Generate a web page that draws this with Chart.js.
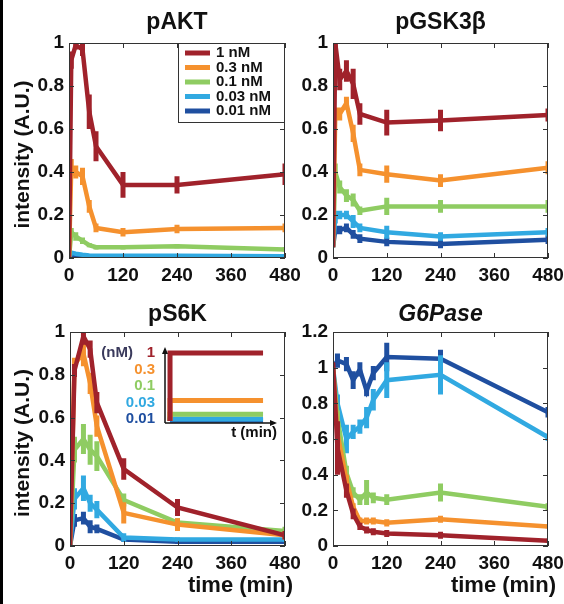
<!DOCTYPE html>
<html>
<head>
<meta charset="utf-8">
<script src="https://cdn.jsdelivr.net/npm/chart.js@4.4.1/dist/chart.umd.min.js"></script>
<style>
  body { margin: 0; background: #fff; }
  #wrap { position: relative; width: 564px; height: 604px; overflow: hidden; background: #fff; }
  #wrap canvas { position: absolute; }
  #edge { position: absolute; left: 0; top: 0; width: 3px; height: 604px; background: #000; }
</style>
</head>
<body>
<div id="wrap">
  <canvas id="akt" width="310" height="300" style="left:0;top:0"></canvas>
  <canvas id="gsk" width="300" height="300" style="left:264px;top:0"></canvas>
  <canvas id="s6k" width="310" height="314" style="left:0;top:290px"></canvas>
  <canvas id="g6p" width="300" height="314" style="left:264px;top:290px"></canvas>
  <canvas id="inset" width="190" height="104" style="left:95px;top:338px"></canvas>
  <div id="edge"></div>
</div>
<script>
// doses, shared by every panel
var doses = ['1 nM', '0.3 nM', '0.1 nM', '0.03 nM', '0.01 nM'];
var doseLabels = ['1', '0.3', '0.1', '0.03', '0.01'];
var doseLevels = [1, 0.3, 0.1, 0.03, 0.01];
var colors = ['#a0222b', '#f5912e', '#8fcc62', '#31a9e1', '#1f4fa0'];

var xTicks = [0, 120, 240, 360, 480];
var yTicks = [0, 0.2, 0.4, 0.6, 0.8, 1];
var yTicksG6p = [0, 0.2, 0.4, 0.6, 0.8, 1, 1.2];

// pAKT
var aktTime = [0, 5, 15, 30, 45, 60, 120, 240, 480];
var aktMean = [
  [0, 0.92, 0.99, 0.97, 0.68, 0.52, 0.34, 0.34, 0.39],
  [0, 0.42, 0.40, 0.38, 0.24, 0.14, 0.12, 0.135, 0.14],
  [0, 0.12, 0.10, 0.08, 0.06, 0.05, 0.05, 0.055, 0.04],
  [0, 0.025, 0.02, 0.015, 0.012, 0.01, 0.01, 0.01, 0.008],
  [0, 0.006, 0.005, 0.004, 0.004, 0.003, 0.003, 0.003, 0.003]
];
var aktErr = [
  [0, 0.04, 0.02, 0.03, 0.08, 0.07, 0.06, 0.04, 0.05],
  [0, 0.04, 0.03, 0.04, 0.03, 0.02, 0.02, 0.02, 0.02],
  [0, 0.02, 0.02, 0.015, 0.01, 0.01, 0.01, 0.01, 0.01],
  [0, 0.005, 0.005, 0.004, 0.003, 0.003, 0.003, 0.003, 0.003],
  [0, 0.002, 0.002, 0.002, 0.002, 0.002, 0.002, 0.002, 0.002]
];

// pGSK3b
var gskTime = [0, 5, 15, 30, 45, 60, 120, 240, 480];
var gskMean = [
  [0.05, 1.0, 0.83, 0.87, 0.81, 0.67, 0.63, 0.64, 0.665],
  [0.05, 0.67, 0.67, 0.72, 0.58, 0.41, 0.39, 0.36, 0.42],
  [0.05, 0.40, 0.33, 0.29, 0.27, 0.22, 0.24, 0.24, 0.24],
  [0.05, 0.19, 0.20, 0.20, 0.17, 0.14, 0.12, 0.10, 0.12],
  [0.05, 0.13, 0.13, 0.14, 0.11, 0.09, 0.075, 0.065, 0.085]
];
var gskErr = [
  [0, 0.02, 0.05, 0.05, 0.07, 0.05, 0.06, 0.05, 0.03],
  [0, 0.03, 0.03, 0.03, 0.04, 0.03, 0.04, 0.03, 0.03],
  [0, 0.04, 0.03, 0.03, 0.03, 0.02, 0.04, 0.03, 0.03],
  [0, 0.03, 0.02, 0.02, 0.03, 0.02, 0.03, 0.02, 0.02],
  [0, 0.02, 0.02, 0.02, 0.02, 0.02, 0.02, 0.02, 0.02]
];

// pS6K
var s6kTime = [0, 10, 30, 45, 60, 120, 240, 480];
var s6kMean = [
  [0, 0.82, 0.98, 0.92, 0.67, 0.36, 0.18, 0.05],
  [0, 0.85, 0.90, 0.76, 0.56, 0.155, 0.10, 0.05],
  [0, 0.45, 0.50, 0.45, 0.42, 0.215, 0.11, 0.07],
  [0, 0.22, 0.27, 0.20, 0.17, 0.04, 0.03, 0.03],
  [0, 0.12, 0.13, 0.09, 0.08, 0.03, 0.02, 0.02]
];
var s6kErr = [
  [0, 0.03, 0.04, 0.04, 0.05, 0.05, 0.04, 0.02],
  [0, 0.03, 0.06, 0.05, 0.05, 0.05, 0.03, 0.02],
  [0, 0.06, 0.07, 0.07, 0.07, 0.03, 0.02, 0.02],
  [0, 0.05, 0.06, 0.04, 0.04, 0.02, 0.01, 0.01],
  [0, 0.03, 0.03, 0.03, 0.02, 0.01, 0.01, 0.01]
];

// G6Pase
var g6pTime = [0, 10, 30, 45, 60, 75, 90, 120, 240, 480];
var g6pMean = [
  [1.03, 0.55, 0.31, 0.18, 0.11, 0.09, 0.08, 0.07, 0.06, 0.03],
  [1.0, 0.63, 0.37, 0.22, 0.14, 0.14, 0.14, 0.13, 0.15, 0.11],
  [1.0, 0.72, 0.41, 0.30, 0.26, 0.30, 0.27, 0.26, 0.30, 0.22],
  [1.0, 0.80, 0.60, 0.64, 0.67, 0.72, 0.82, 0.93, 0.96, 0.61],
  [1.0, 1.04, 1.02, 0.93, 0.99, 0.87, 0.97, 1.06, 1.05, 0.75]
];
var g6pErr = [
  [0, 0.15, 0.04, 0.03, 0.02, 0.02, 0.02, 0.02, 0.02, 0.01],
  [0, 0.04, 0.03, 0.02, 0.02, 0.02, 0.02, 0.02, 0.02, 0.01],
  [0, 0.04, 0.04, 0.03, 0.03, 0.07, 0.03, 0.03, 0.05, 0.02],
  [0, 0.05, 0.08, 0.04, 0.04, 0.06, 0.06, 0.10, 0.11, 0.02],
  [0, 0.04, 0.04, 0.05, 0.04, 0.03, 0.04, 0.08, 0.05, 0.03]
];

Chart.defaults.font.family = '"Liberation Sans", Arial, sans-serif';
Chart.defaults.color = '#111';

// vertical error bars, drawn right after each line so the stacking matches
var errorBars = {
  id: 'errorBars',
  afterDatasetDraw: function(chart, args) {
    var ds = chart.data.datasets[args.index];
    if (!ds.errors) return;
    var ctx = chart.ctx, a = chart.chartArea, y = chart.scales.y;
    ctx.save();
    ctx.beginPath();
    ctx.rect(a.left, a.top, a.right - a.left, a.bottom - a.top);
    ctx.clip();
    ctx.strokeStyle = ds.borderColor;
    ctx.lineWidth = 5;
    ctx.beginPath();
    args.meta.data.forEach(function(pt, j) {
      var e = ds.errors[j];
      if (!e) return;
      var v = ds.data[j].y;
      ctx.moveTo(pt.x, y.getPixelForValue(v - e));
      ctx.lineTo(pt.x, y.getPixelForValue(v + e));
    });
    ctx.stroke();
    ctx.restore();
  }
};

// matlab style box with ticks pointing inwards
var frame = {
  id: 'frame',
  afterDatasetsDraw: function(chart) {
    var ctx = chart.ctx, a = chart.chartArea, x = chart.scales.x, y = chart.scales.y;
    ctx.save();
    ctx.strokeStyle = '#333';
    ctx.lineWidth = 1;
    ctx.strokeRect(a.left + 0.5, a.top + 0.5, a.right - a.left - 1, a.bottom - a.top - 1);
    ctx.beginPath();
    x.ticks.forEach(function(t) {
      var px = Math.round(x.getPixelForValue(t.value)) + 0.5;
      ctx.moveTo(px, a.bottom); ctx.lineTo(px, a.bottom - 5);
      ctx.moveTo(px, a.top); ctx.lineTo(px, a.top + 5);
    });
    y.ticks.forEach(function(t) {
      var py = Math.round(y.getPixelForValue(t.value)) + 0.5;
      ctx.moveTo(a.left, py); ctx.lineTo(a.left + 5, py);
      ctx.moveTo(a.right, py); ctx.lineTo(a.right - 5, py);
    });
    ctx.stroke();
    ctx.restore();
  }
};

var axisText = {
  id: 'axisText',
  afterDraw: function(chart, args, opts) {
    var ctx = chart.ctx, a = chart.chartArea;
    ctx.save();
    ctx.fillStyle = '#111';
    ctx.textBaseline = 'middle';
    if (opts.y) {
      ctx.font = 'bold 21px "Liberation Sans", Arial, sans-serif';
      ctx.textAlign = 'center';
      ctx.translate(23, (a.top + a.bottom) / 2 + 4);
      ctx.rotate(-Math.PI / 2);
      ctx.fillText(opts.y, 0, 0);
      ctx.setTransform(1, 0, 0, 1, 0, 0);
    }
    if (opts.x) {
      ctx.font = 'bold 22px "Liberation Sans", Arial, sans-serif';
      ctx.textAlign = 'right';
      ctx.fillText(opts.x, a.right + 8, a.bottom + 40);
    }
    ctx.restore();
  }
};

var doseLegend = {
  id: 'doseLegend',
  afterDraw: function(chart, args, opts) {
    if (!opts.show) return;
    var ctx = chart.ctx, a = chart.chartArea;
    var left = a.left + 109, top = a.top, h = 80;
    ctx.save();
    ctx.fillStyle = '#fff';
    ctx.fillRect(left, top, a.right - left, h);
    ctx.strokeStyle = '#333';
    ctx.lineWidth = 1;
    ctx.strokeRect(left + 0.5, top + 0.5, a.right - left - 1, h - 1);
    ctx.font = 'bold 15px "Liberation Sans", Arial, sans-serif';
    ctx.textBaseline = 'middle';
    chart.data.datasets.forEach(function(ds, i) {
      var yy = top + 10 + i * 14.5;
      ctx.strokeStyle = ds.borderColor;
      ctx.lineWidth = 5;
      ctx.beginPath();
      ctx.moveTo(left + 7, yy);
      ctx.lineTo(left + 32, yy);
      ctx.stroke();
      ctx.fillStyle = '#111';
      ctx.fillText(ds.label, left + 38, yy);
    });
    ctx.restore();
  }
};

function makePanel(id, opt) {
  var cv = document.getElementById(id);
  var W = cv.width, H = cv.height;
  var datasets = opt.mean.map(function(vals, i) {
    return {
      label: doses[i],
      data: vals.map(function(v, j) { return { x: opt.time[j], y: v }; }),
      errors: opt.err[i],
      borderColor: colors[i],
      backgroundColor: colors[i],
      borderWidth: 4.5,
      pointRadius: 0,
      tension: 0
    };
  });
  return new Chart(cv, {
    type: 'line',
    data: { datasets: datasets },
    options: {
      responsive: false,
      animation: false,
      layout: { padding: { left: 0, top: 0, bottom: 0, right: W - opt.right } },
      plugins: {
        legend: { display: false },
        tooltip: { enabled: false },
        title: {
          display: true,
          text: opt.title,
          fullSize: false,
          color: '#111',
          font: { size: 23, weight: 'bold', style: opt.italic ? 'italic' : 'normal', lineHeight: 1 },
          padding: { top: opt.titlePad, bottom: opt.top - 23 - opt.titlePad }
        },
        axisText: { y: opt.yTitle, x: opt.xTitle },
        doseLegend: { show: !!opt.legend }
      },
      scales: {
        x: {
          type: 'linear', min: 0, max: 480,
          grid: { display: false, drawTicks: false }, border: { display: false },
          afterBuildTicks: function(s) { s.ticks = xTicks.map(function(v) { return { value: v }; }); },
          ticks: { font: { size: 19, weight: 'bold' }, padding: 6, maxRotation: 0, color: '#111',
                   callback: function(v) { return String(v); } },
          afterFit: function(s) { s.height = H - opt.bottom; s.paddingLeft = 0; s.paddingRight = 0; }
        },
        y: {
          type: 'linear', min: 0, max: opt.yTicks[opt.yTicks.length - 1],
          grid: { display: false, drawTicks: false }, border: { display: false },
          afterBuildTicks: function(s) { s.ticks = opt.yTicks.map(function(v) { return { value: v }; }); },
          ticks: { font: { size: 19, weight: 'bold' }, padding: 5, color: '#111',
                   callback: function(v) { return String(+v.toFixed(2)); } },
          afterFit: function(s) { s.width = opt.left; s.paddingTop = 0; s.paddingBottom = 0; }
        }
      }
    },
    plugins: [errorBars, frame, axisText, doseLegend]
  });
}

makePanel('akt', { title: 'pAKT', time: aktTime, mean: aktMean, err: aktErr, yTicks: yTicks,
  left: 69, right: 285, top: 43, bottom: 258, titlePad: 11, yTitle: 'intensity (A.U.)', legend: true });
makePanel('gsk', { title: 'pGSK3β', time: gskTime, mean: gskMean, err: gskErr, yTicks: yTicks,
  left: 69, right: 284, top: 43, bottom: 258, titlePad: 11 });
makePanel('s6k', { title: 'pS6K', time: s6kTime, mean: s6kMean, err: s6kErr, yTicks: yTicks,
  left: 70, right: 285, top: 42, bottom: 256, titlePad: 13, yTitle: 'intensity (A.U.)', xTitle: 'time (min)' });
makePanel('g6p', { title: 'G6Pase', italic: true, time: g6pTime, mean: g6pMean, err: g6pErr, yTicks: yTicksG6p,
  left: 69, right: 284, top: 42, bottom: 256, titlePad: 13, xTitle: 'time (min)' });

// inset: step input of insulin for each dose
var insetAxes = {
  id: 'insetAxes',
  afterDraw: function(chart) {
    var ctx = chart.ctx, a = chart.chartArea, y = chart.scales.y;
    ctx.save();
    ctx.strokeStyle = '#111';
    ctx.fillStyle = '#111';
    ctx.lineWidth = 1.5;
    ctx.beginPath();
    ctx.moveTo(a.left, a.bottom); ctx.lineTo(a.left, a.top + 4);
    ctx.moveTo(a.left, a.bottom); ctx.lineTo(a.right - 4, a.bottom);
    ctx.stroke();
    ctx.beginPath();
    ctx.moveTo(a.left, a.top); ctx.lineTo(a.left - 3, a.top + 7); ctx.lineTo(a.left + 3, a.top + 7); ctx.closePath();
    ctx.moveTo(a.right, a.bottom); ctx.lineTo(a.right - 7, a.bottom - 3); ctx.lineTo(a.right - 7, a.bottom + 3); ctx.closePath();
    ctx.fill();
    ctx.font = 'bold 15px "Liberation Sans", Arial, sans-serif';
    ctx.textBaseline = 'middle';
    ctx.textAlign = 'right';
    var y0 = y.getPixelForValue(1);
    ctx.fillStyle = '#3a3a5c';
    ctx.fillText('(nM)', a.left - 32, y0);
    doseLabels.forEach(function(t, i) {
      ctx.fillStyle = colors[i];
      ctx.fillText(t, a.left - 10, y0 + i * 16.5);
    });
    ctx.fillStyle = '#111';
    ctx.fillText('t (min)', a.right, a.bottom + 10);
    ctx.restore();
  }
};

new Chart(document.getElementById('inset'), {
  type: 'line',
  data: {
    datasets: doseLevels.map(function(L, i) {
      return {
        data: [{ x: 0, y: 0 }, { x: 0, y: L }, { x: 1, y: L }],
        borderColor: colors[i],
        borderWidth: 5,
        pointRadius: 0
      };
    })
  },
  options: {
    responsive: false,
    animation: false,
    layout: { padding: { left: 70, top: 9, right: 8, bottom: 19 } },
    plugins: { legend: { display: false }, tooltip: { enabled: false } },
    scales: {
      x: { type: 'linear', min: -0.054, max: 1.15, display: false },
      y: { type: 'linear', min: -0.03, max: 1.09, display: false }
    }
  },
  plugins: [insetAxes]
});
</script>
</body>
</html>
